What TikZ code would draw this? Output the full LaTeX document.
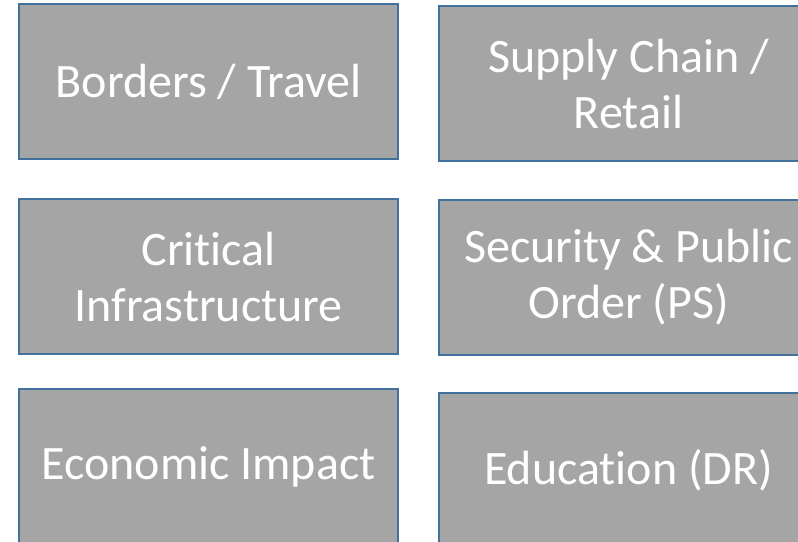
\documentclass[tikz,border=0pt]{standalone}
\usepackage{fontspec}
\setmainfont{Carlito}[Ligatures=NoCommon]
\usepackage{xcolor}
\definecolor{panelgray}{HTML}{A5A5A5}
\definecolor{panelblue}{HTML}{41719C}

\begin{document}
\begin{tikzpicture}[x=1pt, y=-1pt,
        panel/.style={draw=panelblue, line width=2.2pt, fill=panelgray,
            minimum width=379pt, minimum height=155pt, inner sep=0pt,
            anchor=north west, align=center, text=white,
            font=\fontsize{48}{56}\selectfont}]
        \useasboundingbox (0,0) rectangle (798,541);
        \clip (0,0) rectangle (798,541);

        \node[panel] (travel) at (18, 3) {Borders / Travel};
        \node[panel] (retail) at (438, 5) {Supply Chain /\\Retail};

        \node[panel] (infra) at (18, 198) {Critical\\Infrastructure};
        \node[panel] (order) at (438, 199) {Security \& Public\\Order (PS)};

        \node[panel] (econ) at (18, 388) {Economic Impact};
        \node[panel] (edu) at (438, 392) {Education (DR)};
    \end{tikzpicture}
\end{document}
